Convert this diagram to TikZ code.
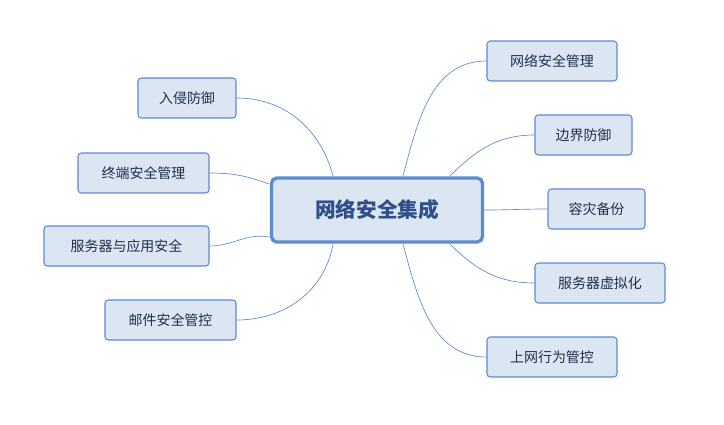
\documentclass[tikz,border=0pt]{standalone}
\usepackage{fontspec}
\setmainfont{Noto Sans CJK SC}
\definecolor{boxfill}{HTML}{DCE6F2}
\definecolor{boxline}{HTML}{5B8BD0}
\definecolor{boxtext}{HTML}{1F2F4F}
\definecolor{centertext}{HTML}{2E4F8A}
\tikzset{
	leafnode/.style={rectangle, rounded corners=2.5pt, draw=boxline, fill=boxfill, thick, text=boxtext, font=\fontsize{10.5}{12}\selectfont, minimum height=40*0.0264cm, inner xsep=10pt},
	centernode/.style={rectangle, rounded corners=4pt, draw=boxline, fill=boxfill, line width=2.5pt, text=centertext, font=\fontsize{15.5}{18}\selectfont\bfseries, minimum width=211*0.0264cm, minimum height=64*0.0264cm},
	branch/.style={draw=boxline, line width=0.5pt}
}
\begin{document}
\begin{tikzpicture}[x=0.0264cm, y=-0.0264cm]
	\useasboundingbox (0,0) rectangle (724,424);
	\node[centernode] at (377,210) (c) {网络安全集成};
	
	% left
	\node[leafnode, minimum width=98*0.0264cm] at (187,98) (ruqin) {入侵防御};
	\node[leafnode, minimum width=131*0.0264cm] at (143.5,173) (zhongduan) {终端安全管理};
	\node[leafnode, minimum width=165*0.0264cm] at (126.5,246) (fuwuyy) {服务器与应用安全};
	\node[leafnode, minimum width=131*0.0264cm] at (170.5,320) (youjian) {邮件安全管控};
	
	% right
	\node[leafnode, minimum width=130*0.0264cm] at (552,61) (wlgl) {网络安全管理};
	\node[leafnode, minimum width=97*0.0264cm] at (583.5,135) (bianjie) {边界防御};
	\node[leafnode, minimum width=97*0.0264cm] at (596.5,209) (rongzai) {容灾备份};
	\node[leafnode, minimum width=130*0.0264cm] at (600,283) (xuni) {服务器虚拟化};
	\node[leafnode, minimum width=130*0.0264cm] at (552,357) (shangwang) {上网行为管控};
	
	%Lines
	\draw[branch] (333,176) to[out=105, in=0] (ruqin.east);
	\draw[branch] (269,184) to[out=160, in=0] (zhongduan.east);
	\draw[branch] (269,237) to[out=170, in=0] (fuwuyy.east);
	\draw[branch] (333,244) to[out=-100, in=0] (youjian.east);
	\draw[branch] (403,176) to[out=75, in=180] (wlgl.west);
	\draw[branch] (450,176) to[out=45, in=180] (bianjie.west);
	\draw[branch] (c.east) to[out=0, in=180] (rongzai.west);
	\draw[branch] (450,244) to[out=-45, in=180] (xuni.west);
	\draw[branch] (403,244) to[out=-75, in=180] (shangwang.west);
\end{tikzpicture}
\end{document}
